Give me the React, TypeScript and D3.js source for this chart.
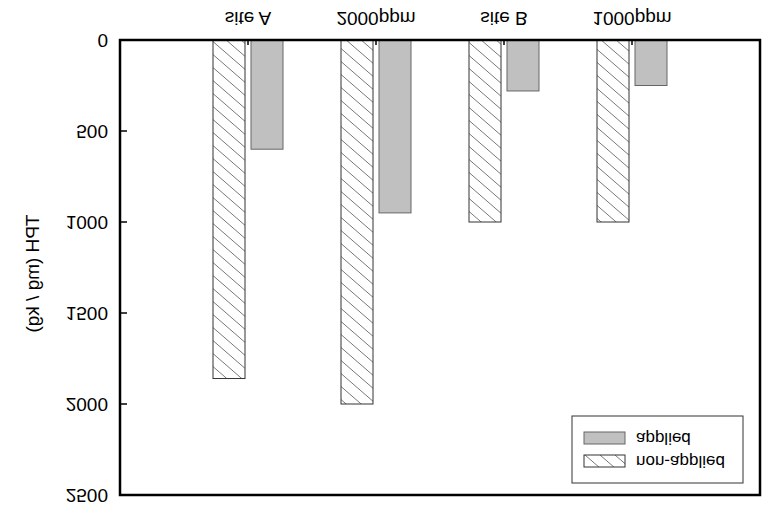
import React from "react";
import * as d3 from "d3";

const categories = ["site A", "2000ppm", "site B", "1000ppm"];
const nonApplied = [1860, 2000, 1000, 1000];
const applied = [600, 950, 280, 250];
const yTicks = [0, 500, 1000, 1500, 2000, 2500];
const legendItems = ["applied", "non-applied"];

const W = 779;
const H = 524;
const FONT = "'Liberation Sans', Arial, sans-serif";

export default function App() {
  const x = d3.scaleLinear().domain([0, 5]).range([120, 760]);
  const y = d3.scaleLinear().domain([0, 2500]).range([40, 495]);
  const barW = 32;
  const gap = 3;

  const lattice = [-2, -1, 0, 1, 2];

  return (
    <svg width={W} height={H} style={{ position: "absolute", left: 0, top: 0, background: "#fff" }}>
      <defs>
        <pattern id="hatch" patternUnits="userSpaceOnUse" width={15} height={13}>
          <rect x={0} y={0} width={15} height={13} fill="#fff" />
          {lattice.map((k) => (
            <line key={k} x1={-5} y1={(13 / 15) * -5 + 13 * k} x2={20} y2={(13 / 15) * 20 + 13 * k} stroke="#555" strokeWidth={0.8} />
          ))}
        </pattern>
      </defs>
      <rect x={0} y={0} width={W} height={H} fill="#fff" />

      {categories.map((c, i) => {
        const cx = x(i + 1);
        return (
          <g key={c}>
            <rect x={cx - gap - barW} y={y(0)} width={barW} height={y(nonApplied[i]) - y(0)} fill="url(#hatch)" stroke="#333" strokeWidth={1} />
            <rect x={cx + gap} y={y(0)} width={barW} height={y(applied[i]) - y(0)} fill="#c0c0c0" stroke="#666" strokeWidth={1} />
            <line x1={cx} x2={cx} y1={y(0)} y2={y(0) + 5} stroke="#000" strokeWidth={1.5} />
            <text transform={`translate(${cx},18) scale(1,-1)`} textAnchor="middle" dominantBaseline="central" fontFamily={FONT} fontSize={19} fill="#000">{c}</text>
          </g>
        );
      })}

      {yTicks.map((t) => (
        <g key={t}>
          <line x1={120} x2={127} y1={y(t)} y2={y(t)} stroke="#000" strokeWidth={1.5} />
          <text transform={`translate(108,${y(t)}) scale(1,-1)`} textAnchor="end" dominantBaseline="central" fontFamily={FONT} fontSize={19} fill="#000">{t}</text>
        </g>
      ))}

      <text transform={`translate(32,${(y(0) + y(2500)) / 2 + 6}) scale(1,-1) rotate(-90)`} textAnchor="middle" dominantBaseline="central" fontFamily={FONT} fontSize={19} fill="#000">TPH (mg / kg)</text>

      <rect x={120} y={40} width={640} height={455} fill="none" stroke="#000" strokeWidth={2.5} />

      <rect x={572} y={416} width={171} height={67} fill="#fff" stroke="#333" strokeWidth={1} />
      {legendItems.map((lab, i) => {
        const ly = 438 + i * 23;
        return (
          <g key={lab}>
            <rect x={584} y={ly - 6} width={41} height={12} fill={i === 0 ? "#c0c0c0" : "url(#hatch)"} stroke={i === 0 ? "#666" : "#333"} strokeWidth={1} />
            <text transform={`translate(636,${ly}) scale(1,-1)`} textAnchor="start" dominantBaseline="central" fontFamily={FONT} fontSize={17} fill="#000">{lab}</text>
          </g>
        );
      })}
    </svg>
  );
}
